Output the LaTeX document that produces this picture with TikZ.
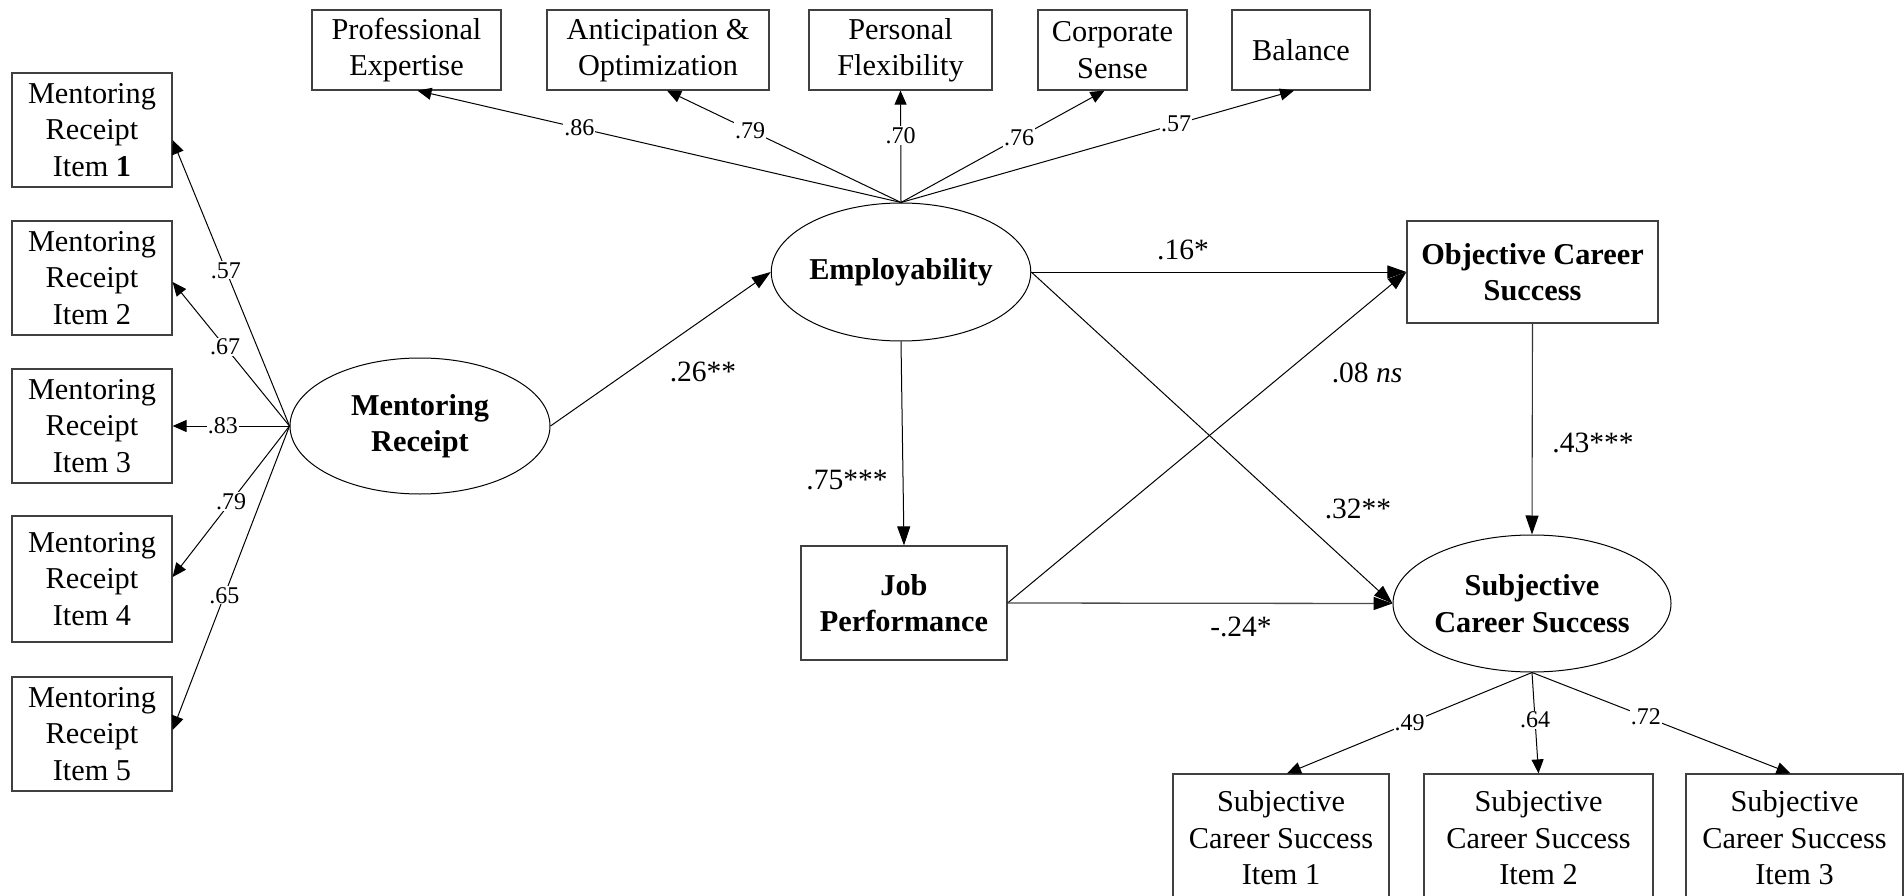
\documentclass[tikz,border=0pt]{standalone}
\usepackage{fontspec}
\setmainfont{Liberation Serif}
\usetikzlibrary{shapes.geometric,arrows.meta}
\newcommand\mainsz{\fontsize{30.3}{36.5}\selectfont}
\newcommand\ldsz{\fontsize{24}{28}\selectfont}
\newcommand\pathsz{\fontsize{29.5}{34}\selectfont}
\begin{document}
\begin{tikzpicture}[x=1pt,y=-1pt,
  box/.style={draw=black!75, line width=1.2pt, rectangle, inner sep=0pt, align=center, font=\mainsz},
  topbox/.style={box, minimum height=80pt, text depth=9pt},
  lat/.style={draw, line width=1pt, ellipse, inner sep=0pt, align=center, font=\mainsz\bfseries},
  ld/.style={-{Triangle[length=14pt,width=12pt]}, line width=1pt},
  pth/.style={-{Triangle[length=19pt,width=13pt,color=black]}, line width=1pt},
  lbl/.style={fill=white, inner sep=1pt, font=\ldsz},
  plbl/.style={inner sep=0pt, font=\pathsz}]
\useasboundingbox[fill=white] (0,0) rectangle (1904,896);

% top indicator boxes
\node[box, minimum width=189pt, minimum height=80pt] (pe) at (406.5,50) {\raisebox{-4pt}{\begin{tabular}{@{}c@{}}Professional\\Expertise\end{tabular}}};
\node[box, minimum width=222pt, minimum height=80pt] (ao) at (658,50) {\raisebox{-4pt}{\begin{tabular}{@{}c@{}}Anticipation \&\\Optimization\end{tabular}}};
\node[box, minimum width=183pt, minimum height=80pt] (pf) at (900.5,50) {\raisebox{-4pt}{\begin{tabular}{@{}c@{}}Personal\\Flexibility\end{tabular}}};
\node[box, minimum width=149pt, minimum height=80pt] (cs) at (1112.5,50) {Corporate\\Sense};
\node[box, minimum width=138pt, minimum height=80pt] (bal) at (1301,50) {Balance};

% mentoring items
\node[box, minimum width=160pt, minimum height=114pt] (m1) at (92,130) {Mentoring\\Receipt\\Item \textbf{1}};
\node[box, minimum width=160pt, minimum height=114pt] (m2) at (92,278) {Mentoring\\Receipt\\Item 2};
\node[box, minimum width=160pt, minimum height=114pt] (m3) at (92,426) {Mentoring\\Receipt\\Item 3};
\node[box, minimum width=160pt, minimum height=126pt] (m4) at (92,579) {Mentoring\\Receipt\\Item 4};
\node[box, minimum width=160pt, minimum height=114pt] (m5) at (92,734) {Mentoring\\Receipt\\Item 5};

% latent variables
\node[lat, minimum width=260pt, minimum height=136pt] (mr) at (420,426) {Mentoring\\Receipt};
\node[lat, minimum width=256pt, minimum height=138pt] (emp) at (901,272) {Employability};
\node[lat, minimum width=278pt, minimum height=137pt] (subj) at (1532,603.5) {Subjective\\Career Success};

% observed outcomes
\node[box, font=\mainsz\bfseries, minimum width=206pt, minimum height=114pt] (jp) at (904,603) {Job\\Performance};
\node[box, font=\mainsz\bfseries, minimum width=251pt, minimum height=102pt] (obj) at (1532.5,272) {Objective Career\\Success};

% subjective items
\node[box, minimum width=216pt, minimum height=128pt] (s1) at (1281,838) {Subjective\\Career Success\\Item 1};
\node[box, minimum width=229pt, minimum height=128pt] (s2) at (1538.5,838) {Subjective\\Career Success\\Item 2};
\node[box, minimum width=217pt, minimum height=128pt] (s3) at (1794.5,838) {Subjective\\Career Success\\Item 3};

% employability loadings
\draw[ld] (emp.north) -- node[lbl,pos=0.665]{.86} ([xshift=11pt]pe.south);
\draw[ld] (emp.north) -- node[lbl,pos=0.645]{.79} ([xshift=9pt]ao.south);
\draw[ld] (emp.north) -- node[lbl,pos=0.6]{.70} (pf.south);
\draw[ld] (emp.north) -- node[lbl,pos=0.58]{.76} ([xshift=-8pt]cs.south);
\draw[ld] (emp.north) -- node[lbl,pos=0.7]{.57} ([xshift=-7pt]bal.south);

% mentoring loadings
\draw[ld] (mr.west) -- node[lbl,pos=0.544]{.57} ([yshift=-10pt]m1.east);
\draw[ld] (mr.west) -- node[lbl,pos=0.55]{.67} ([yshift=-4pt]m2.east);
\draw[ld] (mr.west) -- node[lbl,pos=0.57]{.83} (m3.east);
\draw[ld] (mr.west) -- node[lbl,pos=0.5]{.79} ([yshift=2pt]m4.east);
\draw[ld] (mr.west) -- node[lbl,pos=0.557]{.65} ([yshift=4pt]m5.east);

% subjective loadings
\draw[ld] (subj.south) -- node[lbl,pos=0.5]{.49} ([xshift=6pt]s1.north);
\draw[ld] (subj.south) -- node[lbl,pos=0.47]{.64} (s2.north);
\draw[ld] (subj.south) -- node[lbl,pos=0.44]{.72} ([xshift=-4pt]s3.north);

% structural paths
\draw[pth] (mr.east) -- (emp.west);
\draw[pth] (emp.east) -- (obj.west);
\draw[pth] (emp.east) -- (subj.west);
\draw[pth] (emp.south) -- (jp.north);
\draw[pth] (jp.east) -- (obj.west);
\draw[pth, draw=black!70, line width=1.3pt] (jp.east) -- (subj.west);
\draw[pth, draw=black!80, line width=1.1pt] (obj.south) -- (subj.north);

% path coefficients
\node[plbl] (l26) at (703,372) {.26**};
\node[plbl] (l16) at (1183,250) {.16*};
\node[plbl] (l08) at (1367,373) {.08 \textit{ns}};
\node[plbl] (l32) at (1358,509) {.32**};
\node[plbl] (l75) at (847,480) {.75***};
\node[plbl] (l24) at (1241,627) {-.24*};
\node[plbl] (l43) at (1593,443) {.43***};
\end{tikzpicture}
\end{document}
